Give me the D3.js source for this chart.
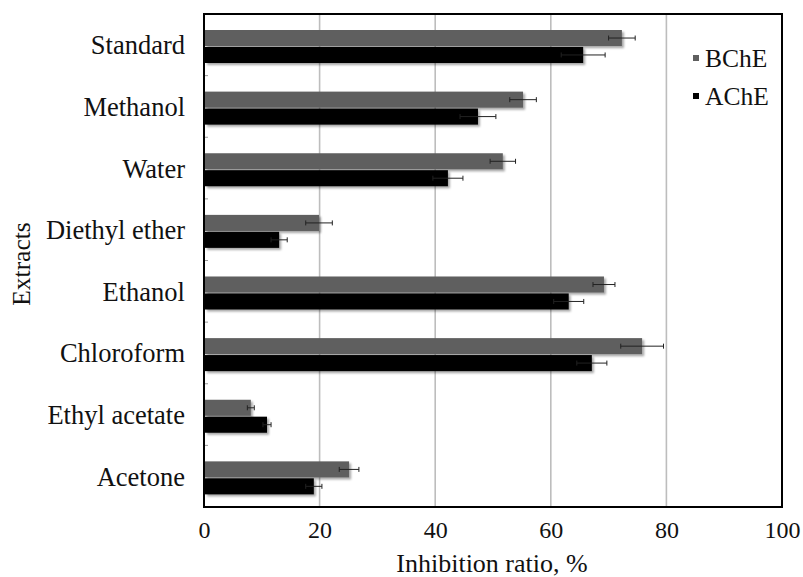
<!DOCTYPE html>
<html>
<head>
<meta charset="utf-8">
<script src="https://cdn.jsdelivr.net/npm/d3@7"></script>
<style>
  body { margin: 0; background: #fff; }
  svg { display: block; }
</style>
</head>
<body>
<svg id="chart" width="803" height="577"></svg>
<script>
const categories = ["Standard", "Methanol", "Water", "Diethyl ether", "Ethanol", "Chloroform", "Ethyl acetate", "Acetone"];
const seriesNames = ["BChE", "AChE"];
const bcheValues = [72.3, 55.2, 51.7, 19.9, 69.2, 75.8, 8.1, 25.1];
const bcheErrors = [2.3, 2.3, 2.2, 2.3, 1.9, 3.7, 0.6, 1.7];
const acheValues = [65.6, 47.4, 42.2, 13.0, 63.1, 67.1, 10.9, 19.0];
const acheErrors = [3.8, 3.1, 2.6, 1.4, 2.6, 2.6, 0.7, 1.4];
const xTicks = [0, 20, 40, 60, 80, 100];
const xLabel = "Inhibition ratio, %";
const yLabel = "Extracts";

const seriesColor = { BChE: "#5f5f5f", AChE: "#000000" };
const FONT = "Liberation Serif";

(function () {
const svg = d3.select("#chart");
const pLeft = 204, pRight = 782, pTop = 14, pBottom = 507;

const x = d3.scaleLinear().domain([0, 100]).range([pLeft, pRight]);
const y = d3.scaleBand().domain(categories).range([pTop, pBottom]).padding(0);
const yInner = d3.scaleBand().domain(seriesNames).range([16, 49]).paddingInner(0.05);

const defs = svg.append("defs");
const f = defs.append("filter").attr("id", "shadow").attr("x", "-5%").attr("y", "-30%").attr("width", "115%").attr("height", "170%");
f.append("feDropShadow").attr("dx", 2).attr("dy", 2).attr("stdDeviation", 1.2)
  .attr("flood-color", "#000").attr("flood-opacity", 0.35);

svg.append("g").selectAll("line").data(xTicks.slice(1, -1)).join("line")
  .attr("x1", d => x(d)).attr("x2", d => x(d))
  .attr("y1", pTop).attr("y2", pBottom)
  .attr("stroke", "#bdbdbd").attr("stroke-width", 1.6);

svg.append("g").selectAll("line").data(categories.slice(1)).join("line")
  .attr("x1", pLeft).attr("x2", pLeft + 4)
  .attr("y1", d => y(d)).attr("y2", d => y(d))
  .attr("stroke", "#999").attr("stroke-width", 1);

const rows = [];
categories.forEach((c, i) => {
  rows.push({ cat: c, s: "BChE", v: bcheValues[i], e: bcheErrors[i] });
  rows.push({ cat: c, s: "AChE", v: acheValues[i], e: acheErrors[i] });
});

svg.append("g").selectAll("rect").data(rows).join("rect")
  .attr("x", x(0) + 1)
  .attr("y", d => y(d.cat) + yInner(d.s))
  .attr("width", d => x(d.v) - x(0) - 1)
  .attr("height", yInner.bandwidth())
  .attr("fill", d => seriesColor[d.s])
  .attr("filter", "url(#shadow)");

const eb = svg.append("g").attr("stroke", "#222").attr("stroke-width", 1);
rows.forEach(d => {
  const cy = y(d.cat) + yInner(d.s) + yInner.bandwidth() / 2;
  eb.append("line").attr("x1", x(d.v - d.e)).attr("x2", x(d.v + d.e)).attr("y1", cy).attr("y2", cy);
  eb.append("line").attr("x1", x(d.v - d.e)).attr("x2", x(d.v - d.e)).attr("y1", cy - 2.5).attr("y2", cy + 2.5);
  eb.append("line").attr("x1", x(d.v + d.e)).attr("x2", x(d.v + d.e)).attr("y1", cy - 2.5).attr("y2", cy + 2.5);
});

svg.append("rect").attr("x", pLeft).attr("y", pTop).attr("width", pRight - pLeft).attr("height", pBottom - pTop)
  .attr("fill", "none").attr("stroke", "#000").attr("stroke-width", 2);

const xAxis = d3.axisBottom(x).tickValues(xTicks).tickSize(0).tickPadding(0);
const gx = svg.append("g").attr("transform", `translate(0,${pBottom})`).call(xAxis)
  .attr("font-family", FONT);
gx.select(".domain").remove();
gx.selectAll("text").attr("y", 31).attr("dy", null).attr("font-size", 24).attr("fill", "#111")
  .attr("font-family", FONT);

const yAxis = d3.axisLeft(y).tickSize(0).tickPadding(0);
const gy = svg.append("g").attr("transform", `translate(185,0)`).call(yAxis)
  .attr("font-family", FONT);
gy.select(".domain").remove();
gy.selectAll("text").attr("dy", "0.36em").attr("font-size", 26.5).attr("fill", "#111")
  .attr("font-family", FONT);

svg.append("text").attr("x", (pLeft + pRight) / 2 - 1).attr("y", 572).attr("text-anchor", "middle")
  .attr("font-family", FONT).attr("font-size", 26).attr("fill", "#111").text(xLabel);
svg.append("text").attr("transform", "translate(30,264) rotate(-90)").attr("text-anchor", "middle")
  .attr("font-family", FONT).attr("font-size", 25.5).attr("fill", "#111").text(yLabel);

const leg = svg.append("g");
seriesNames.forEach((s, i) => {
  const ly = 58 + i * 38;
  leg.append("rect").attr("x", 693).attr("y", ly - 3).attr("width", 6).attr("height", 6).attr("fill", seriesColor[s]);
  leg.append("text").attr("x", 705).attr("y", ly).attr("dy", "0.36em").attr("font-size", 25.5)
    .attr("font-family", FONT).attr("fill", "#111").text(s);
});
})();
</script>
</body>
</html>
